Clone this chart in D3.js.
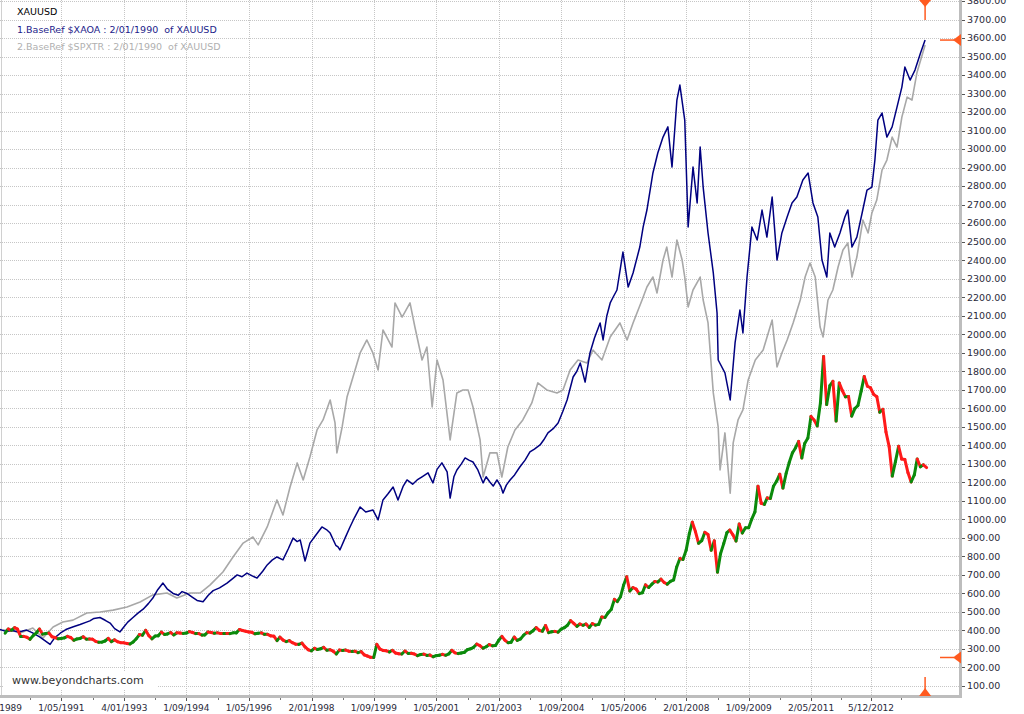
<!DOCTYPE html>
<html><head><meta charset="utf-8">
<script src="https://cdn.jsdelivr.net/npm/d3@7"></script>
<style>body{margin:0;background:#fff;overflow:hidden}svg{display:block}text.pre{white-space:pre}</style>
</head><body>
<svg id="chart" width="1024" height="714"></svg>
<script>
// ---------- DATA ----------
const xTickLabels = ["1/09/1989","1/05/1991","4/01/1993","1/09/1994","1/05/1996","2/01/1998","1/09/1999","1/05/2001","2/01/2003","1/09/2004","1/05/2006","2/01/2008","1/09/2009","2/05/2011","5/12/2012"];
const yTickValues = [100,200,300,400,500,600,700,800,900,1000,1100,1200,1300,1400,1500,1600,1700,1800,1900,2000,2100,2200,2300,2400,2500,2600,2700,2800,2900,3000,3100,3200,3300,3400,3500,3600,3700,3800];
const legendTitle = "XAUUSD";
const legendSeries1 = "1.BaseRef $XAOA : 2/01/1990\u00a0\u00a0of XAUUSD";
const legendSeries2 = "2.BaseRef $SPXTR : 2/01/1990\u00a0\u00a0of XAUUSD";
const watermark = "www.beyondcharts.com";

// XAUUSD monthly closes starting Oct 1989
const goldStartYear = 1989, goldStartMonth = 9; // October (0-based)
const goldClose = [
 385,408,401,
 415,407,368,368,363,352,372,387,408,380,384,386,
 366,362,355,357,360,368,362,347,354,357,366,353,
 354,353,341,336,337,343,357,340,349,339,334,333,
 330,327,338,355,378,374,401,372,355,370,371,391,
 378,381,389,376,387,386,384,386,394,389,383,383,
 375,376,392,389,385,387,384,383,384,383,387,387,
 405,400,396,392,390,382,385,387,379,379,371,369,
 345,364,348,340,345,334,326,325,332,311,296,290,
 304,297,301,309,293,296,288,273,294,292,294,288,
 287,288,280,286,268,262,255,254,325,299,292,290,
 284,293,278,274,273,289,276,277,273,264,270,272,
 265,267,258,264,266,271,266,273,293,279,275,278,
 282,296,301,309,326,318,304,312,324,317,319,347,
 368,348,334,336,364,346,354,375,388,386,398,416,
 400,396,427,388,393,395,391,407,415,428,453,438,
 422,435,428,435,416,437,429,433,473,470,495,513,
 568,556,582,644,690,613,632,623,599,604,646,632,
 650,664,662,677,659,650,665,673,743,789,783,834,
 923,985,933,871,885,930,918,833,884,715,814,869,
 928,942,916,883,975,926,955,955,1001,1040,1179,1087,
 1081,1116,1113,1179,1207,1244,1169,1248,1307,1359,1386,1421,
 1332,1410,1439,1556,1536,1505,1628,1880,1620,1722,1746,1531,
 1737,1696,1662,1664,1558,1598,1615,1693,1772,1719,1711,1675,
 1662,1579,1595,1472,1393,1234,1312,1395,1326,1323,1253,1202,
 1240,1326,1284,1295,1280
];

// $XAOA rebased (decimal-year dates)
const xaoaDates = [1989.69,1989.85,1990.01,1990.2,1990.4,1990.55,1990.75,1991.03,1991.15,1991.3,1991.45,1991.65,1991.83,1992.0,1992.09,1992.2,1992.36,1992.5,1992.63,1992.75,1992.89,1993.0,1993.1,1993.24,1993.38,1993.51,1993.65,1993.77,1993.9,1994.04,1994.15,1994.31,1994.45,1994.55,1994.68,1994.82,1994.95,1995.11,1995.25,1995.38,1995.55,1995.75,1995.9,1996.02,1996.15,1996.28,1996.42,1996.55,1996.7,1996.82,1996.95,1997.08,1997.24,1997.38,1997.51,1997.62,1997.70,1997.83,1997.96,1998.1,1998.28,1998.4,1998.50,1998.65,1998.71,1998.76,1998.9,1999.03,1999.15,1999.30,1999.45,1999.64,1999.78,1999.91,2000.05,2000.18,2000.31,2000.45,2000.55,2000.7,2000.82,2000.95,2001.11,2001.24,2001.35,2001.48,2001.62,2001.70,2001.8,2001.88,2002.0,2002.10,2002.2,2002.31,2002.44,2002.58,2002.66,2002.76,2002.85,2002.95,2003.05,2003.11,2003.2,2003.30,2003.42,2003.56,2003.7,2003.83,2003.95,2004.10,2004.2,2004.31,2004.45,2004.58,2004.7,2004.82,2004.98,2005.08,2005.17,2005.30,2005.43,2005.55,2005.70,2005.78,2005.88,2005.97,2006.05,2006.15,2006.31,2006.45,2006.58,2006.76,2006.85,2006.95,2007.11,2007.24,2007.38,2007.51,2007.62,2007.75,2007.83,2007.96,2008.05,2008.18,2008.29,2008.37,2008.45,2008.58,2008.72,2008.82,2008.85,2009.03,2009.17,2009.30,2009.43,2009.51,2009.62,2009.75,2009.89,2010.02,2010.15,2010.29,2010.42,2010.55,2010.69,2010.82,2010.95,2011.11,2011.25,2011.38,2011.51,2011.62,2011.75,2011.83,2011.96,2012.10,2012.23,2012.31,2012.42,2012.55,2012.69,2012.82,2012.95,2013.03,2013.11,2013.22,2013.35,2013.49,2013.62,2013.75,2013.83,2013.97,2014.10,2014.25,2014.37];
const xaoaValues = [405,395,400,392,402,388,365,325,360,385,405,420,432,445,452,465,470,455,440,410,392,420,445,470,495,515,545,575,620,656,625,600,590,610,600,580,562,555,590,615,630,656,680,700,690,710,695,683,720,754,780,797,781,840,899,880,889,775,872,910,959,945,926,860,851,835,900,959,1010,1067,1040,1051,997,1105,1140,1175,1105,1180,1213,1190,1213,1230,1251,1197,1270,1305,1256,1115,1230,1267,1300,1332,1320,1310,1267,1197,1230,1202,1180,1213,1180,1142,1185,1213,1240,1283,1320,1364,1380,1402,1430,1467,1490,1521,1580,1645,1769,1800,1845,1742,1899,1980,2061,1969,2100,2169,2201,2239,2444,2255,2331,2471,2580,2671,2871,2979,3065,3120,2903,3265,3346,3157,2579,2903,2709,3011,2795,2547,2331,2115,1861,1791,1645,1953,2131,2007,2309,2579,2509,2671,2525,2741,2401,2547,2633,2709,2741,2833,2871,2709,2633,2401,2309,2547,2471,2547,2633,2671,2471,2525,2655,2779,2795,2941,3157,3195,3065,3120,3227,3335,3443,3373,3427,3520,3589];

// $SPXTR rebased (decimal-year dates)
const spxtrDates = [1989.77,1990.01,1990.23,1990.57,1990.84,1991.11,1991.37,1991.64,1992.01,1992.36,1992.71,1993.08,1993.43,1993.77,1994.15,1994.41,1994.76,1995.03,1995.30,1995.64,1995.91,1996.18,1996.44,1996.58,1996.82,1997.08,1997.24,1997.43,1997.62,1997.78,1997.96,1998.15,1998.31,1998.50,1998.63,1998.68,1998.82,1998.95,1999.11,1999.30,1999.48,1999.64,1999.78,1999.91,2000.15,2000.23,2000.42,2000.63,2000.76,2000.95,2001.08,2001.22,2001.35,2001.51,2001.70,2001.88,2002.04,2002.18,2002.31,2002.50,2002.58,2002.76,2002.95,2003.08,2003.24,2003.43,2003.64,2003.88,2004.04,2004.28,2004.55,2004.71,2004.90,2005.11,2005.35,2005.51,2005.75,2005.97,2006.23,2006.42,2006.58,2006.82,2006.95,2007.11,2007.22,2007.38,2007.48,2007.62,2007.75,2007.89,2007.96,2008.05,2008.18,2008.37,2008.45,2008.58,2008.72,2008.85,2008.90,2009.03,2009.17,2009.25,2009.38,2009.51,2009.65,2009.84,2010.05,2010.29,2010.42,2010.55,2010.69,2010.85,2011.04,2011.17,2011.30,2011.44,2011.57,2011.65,2011.78,2011.91,2012.05,2012.18,2012.31,2012.42,2012.55,2012.71,2012.85,2012.95,2013.08,2013.22,2013.35,2013.49,2013.62,2013.75,2013.89,2014.02,2014.15,2014.37];
const spxtrValues = [402,400,386,413,359,419,446,456,494,500,510,527,554,592,602,575,602,602,646,716,797,872,905,862,959,1105,1024,1175,1305,1213,1337,1483,1537,1645,1521,1359,1499,1661,1769,1899,1969,1899,1807,2023,1931,2169,2093,2169,2039,1861,1931,1607,1861,1753,1429,1683,1699,1699,1607,1429,1229,1359,1359,1229,1391,1483,1537,1629,1737,1699,1683,1699,1807,1861,1845,1915,1861,1985,2061,1969,2061,2185,2255,2309,2223,2401,2471,2309,2509,2401,2309,2147,2239,2309,2185,2061,1683,1499,1267,1467,1142,1413,1537,1591,1753,1861,1915,2077,1823,1899,1969,2061,2185,2309,2385,2309,2039,1985,2185,2239,2363,2455,2493,2309,2417,2617,2547,2655,2725,2887,2941,3065,3011,3173,3281,3265,3411,3562];

// ---------- CHART ----------
const svg = d3.select("#chart");
const W = 1024, H = 714;
const plotRight = 960, plotBottom = 696;
const parseD = d3.timeParse("%d/%m/%Y");
function decYear(d){ const y=Math.floor(d); const a=new Date(y,0,1), b=new Date(y+1,0,1); return new Date(+a + (d-y)*(b-a)); }

const x = d3.scaleTime().domain([parseD("1/09/1989"), parseD("5/12/2012")]).range([-1, 871]);
const y = d3.scaleLinear().domain([100, 3800]).range([686, 1]);

svg.append("rect").attr("width",W).attr("height",H).attr("fill","#fff");

const defs = svg.append("defs");
defs.append("clipPath").attr("id","plotclip").append("rect").attr("x",0).attr("y",0).attr("width",plotRight-1).attr("height",plotBottom-1);

// grid
const grid = svg.append("g");
grid.selectAll("line.h").data(yTickValues).join("line")
  .attr("x1",0).attr("x2",plotRight).attr("y1",d=>Math.round(y(d))+0.5).attr("y2",d=>Math.round(y(d))+0.5)
  .attr("stroke","#c6c6c6").attr("stroke-dasharray","1,1");
const xTicks = xTickLabels.map(parseD);
grid.selectAll("line.v").data(xTicks).join("line")
  .attr("x1",d=>Math.round(x(d))+0.5).attr("x2",d=>Math.round(x(d))+0.5).attr("y1",0).attr("y2",plotBottom)
  .attr("stroke","#c6c6c6").attr("stroke-dasharray","1,1");
grid.append("line").attr("x1",1.5).attr("x2",1.5).attr("y1",0).attr("y2",plotBottom).attr("stroke","#d0d0d0");

// watermark box
svg.append("rect").attr("x",3).attr("y",671).attr("width",155).attr("height",19).attr("fill","#fff");
svg.append("text").attr("x",12).attr("y",684).text(watermark)
  .attr("font-family","DejaVu Sans").attr("font-size",11).attr("fill","#333");

const plot = svg.append("g").attr("clip-path","url(#plotclip)");

const spx = spxtrDates.map((d,i)=>({date:decYear(d), v:spxtrValues[i]}));
const xao = xaoaDates.map((d,i)=>({date:decYear(d), v:xaoaValues[i]}));
const line = d3.line().x(d=>x(d.date)).y(d=>y(d.v));

plot.append("path").datum(spx).attr("d",line).attr("fill","none").attr("stroke","#a8a8a8").attr("stroke-width",1.6).attr("stroke-linejoin","round");
plot.append("path").datum(xao).attr("d",line).attr("fill","none").attr("stroke","#000080").attr("stroke-width",1.5).attr("stroke-linejoin","round");

// gold: red/green segments by direction
const gold = goldClose.map((v,i)=>({date:new Date(goldStartYear, goldStartMonth+i+1, 0), v}));
const segs = gold.slice(1).map((d,i)=>({a:gold[i], b:d, up:d.v>=gold[i].v}));
plot.selectAll("line.gold").data(segs).join("line")
  .attr("x1",d=>x(d.a.date)).attr("y1",d=>y(d.a.v)).attr("x2",d=>x(d.b.date)).attr("y2",d=>y(d.b.v))
  .attr("stroke",d=>d.up?"#0b8a0b":"#ff1a1a").attr("stroke-width",3).attr("stroke-linecap","round");

// axes lines
svg.append("line").attr("x1",plotRight+0.5).attr("x2",plotRight+0.5).attr("y1",0).attr("y2",plotBottom+2).attr("stroke","#bdbdbd").attr("stroke-width",3);
svg.append("line").attr("x1",0).attr("x2",plotRight+2).attr("y1",plotBottom+0.5).attr("y2",plotBottom+0.5).attr("stroke","#bdbdbd").attr("stroke-width",3);

// right axis ticks + labels
const fmt = d3.format(".2f");
const ra = svg.append("g");
ra.selectAll("line").data(yTickValues).join("line")
  .attr("x1",plotRight+2).attr("x2",plotRight+5).attr("y1",d=>Math.round(y(d))+0.5).attr("y2",d=>Math.round(y(d))+0.5)
  .attr("stroke","#555");
ra.selectAll("text").data(yTickValues).join("text")
  .attr("x",967).attr("y",d=>y(d)).attr("dy","0.35em").text(d=>fmt(d))
  .attr("font-family","DejaVu Sans").attr("font-size",9.5).attr("fill","#2a2a3a");

// bottom ticks + labels
const ba = svg.append("g");
ba.selectAll("line.maj").data(xTicks).join("line")
  .attr("x1",d=>Math.round(x(d))+0.5).attr("x2",d=>Math.round(x(d))+0.5).attr("y1",plotBottom+2).attr("y2",plotBottom+5).attr("stroke","#555");
const mids = xTicks.slice(1).map((d,i)=>new Date((+d + +xTicks[i])/2)).concat([new Date(+xTicks[xTicks.length-1] + (xTicks[xTicks.length-1]-xTicks[xTicks.length-2])/2)]);
ba.selectAll("line.min").data(mids).join("line")
  .attr("x1",d=>Math.round(x(d))+0.5).attr("x2",d=>Math.round(x(d))+0.5).attr("y1",plotBottom+2).attr("y2",plotBottom+4).attr("stroke","#777");
ba.selectAll("text").data(xTicks).join("text")
  .attr("x",d=>x(d)).attr("y",711).attr("text-anchor","middle").text((d,i)=>xTickLabels[i])
  .attr("font-family","DejaVu Sans").attr("font-size",9).attr("fill","#2a2a3a");

// legend
const lg = svg.append("g").attr("font-family","DejaVu Sans").attr("font-size",9.5);
lg.append("text").attr("class","pre").attr("x",17).attr("y",15).text(legendTitle).attr("fill","#000");
lg.append("text").attr("class","pre").attr("x",17).attr("y",33).text(legendSeries1).attr("fill","#1c1c8a");
lg.append("text").attr("class","pre").attr("x",17).attr("y",50).text(legendSeries2).attr("fill","#b0b0b0");

// orange markers (last bar / last value / lowest value)
const mk = "#ff5a1f";
const lastX = x(xao[xao.length-1].date);
const lastY = y(xao[xao.length-1].v);
const minGold = d3.min(goldClose);
const minY = y(minGold);
const m = svg.append("g").attr("fill",mk).attr("stroke",mk);
m.append("line").attr("x1",lastX).attr("x2",lastX).attr("y1",4).attr("y2",20).attr("stroke-width",1.5);
m.append("path").attr("d",`M${lastX-6},0 L${lastX+6},0 L${lastX},7 Z`).attr("stroke","none");
m.append("line").attr("x1",lastX).attr("x2",lastX).attr("y1",677).attr("y2",690).attr("stroke-width",1.5);
m.append("path").attr("d",`M${lastX-6},${plotBottom} L${lastX+6},${plotBottom} L${lastX},${plotBottom-8} Z`).attr("stroke","none");
[lastY, minY].forEach(yy=>{
  m.append("line").attr("x1",940).attr("x2",954).attr("y1",yy).attr("y2",yy).attr("stroke-width",1.5);
  m.append("path").attr("d",`M${plotRight+1},${yy-6} L${plotRight+1},${yy+6} L${plotRight-7},${yy} Z`).attr("stroke","none");
});
</script>
</body></html>
